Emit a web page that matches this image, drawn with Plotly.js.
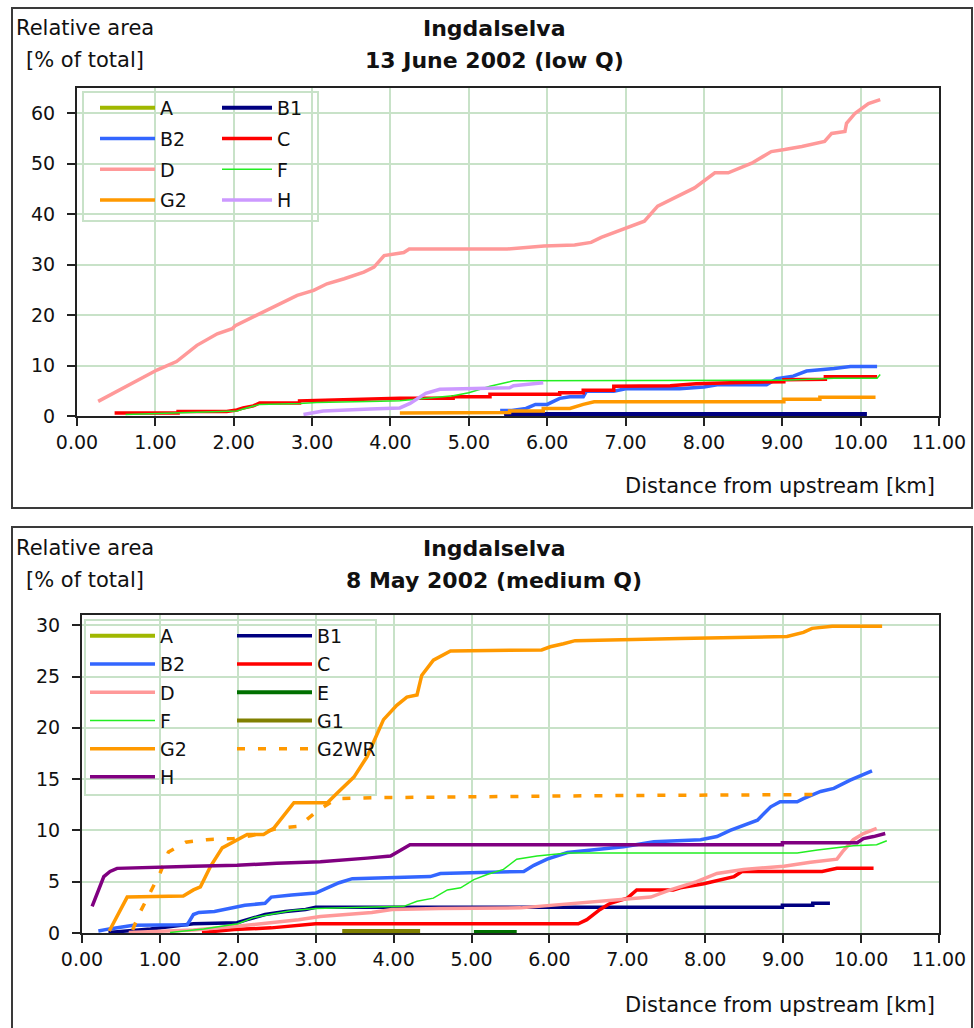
<!DOCTYPE html>
<html>
<head>
<meta charset="utf-8">
<script src="https://cdn.plot.ly/plotly-3.0.1.min.js"></script>
<style>
html,body{margin:0;padding:0;background:#fff;}
.box{position:absolute;left:11px;width:958px;border:2px solid #3a3a3a;background:#fff;}
#b1{top:7px;height:498px;}
#b2{top:526px;height:500px;}
</style>
</head>
<body>
<div class="box" id="b1"><div id="p1"></div></div>
<div class="box" id="b2"><div id="p2"></div></div>
<script>
// ---------- Chart 1: 13 June 2002 (low Q) ----------
// Series A has no visible values in the chart (legend entry only)
const juneA_x = [null];
const juneA_y = [null];
const juneB1_x = [5.45, 5.52, 10.08];
const juneB1_y = [0.2, 0.4, 0.4];
const juneB2_x = [5.40, 5.55, 5.73, 5.85, 6.00, 6.16, 6.29, 6.46, 6.50, 6.85, 7.00, 7.69, 8.00, 8.17, 8.80, 8.93, 9.14, 9.31, 9.66, 9.87, 10.21];
const juneB2_y = [1.1, 1.1, 1.5, 2.3, 2.3, 3.5, 3.8, 3.8, 4.9, 4.9, 5.4, 5.4, 5.75, 6.2, 6.2, 7.4, 7.9, 8.9, 9.4, 9.8, 9.8];
const juneC_x = [0.48, 1.29, 1.29, 1.91, 2.04, 2.12, 2.25, 2.33, 2.84, 2.84, 3.40, 3.74, 4.00, 4.12, 4.80, 4.80, 5.27, 5.27, 6.16, 6.16, 6.46, 6.46, 6.85, 6.85, 7.57, 7.90, 8.34, 9.02, 9.02, 9.55, 9.55, 10.21];
const juneC_y = [0.6, 0.6, 0.9, 0.9, 1.2, 1.6, 2.0, 2.6, 2.6, 3.0, 3.2, 3.3, 3.3, 3.5, 3.5, 3.8, 3.8, 4.3, 4.3, 4.6, 4.6, 5.1, 5.1, 5.9, 6.0, 6.4, 6.6, 6.8, 7.2, 7.3, 7.8, 7.8];
const juneD_x = [0.27, 1.02, 1.27, 1.53, 1.79, 1.98, 2.02, 2.25, 2.55, 2.81, 3.02, 3.19, 3.41, 3.66, 3.79, 3.92, 4.17, 4.24, 5.49, 5.96, 6.35, 6.56, 6.69, 7.03, 7.24, 7.41, 7.63, 7.88, 8.14, 8.31, 8.61, 8.86, 9.03, 9.25, 9.54, 9.63, 9.80, 9.82, 9.93, 10.10, 10.25];
const juneD_y = [2.9, 9.1, 10.8, 14.0, 16.3, 17.3, 17.9, 19.6, 21.9, 23.9, 24.9, 26.2, 27.2, 28.5, 29.5, 31.8, 32.4, 33.1, 33.1, 33.7, 33.9, 34.4, 35.4, 37.3, 38.6, 41.6, 43.2, 45.2, 48.2, 48.2, 50.1, 52.4, 52.8, 53.4, 54.4, 56.0, 56.4, 58.0, 60.0, 61.9, 62.7];
const juneF_x = [0.62, 1.29, 1.52, 1.91, 2.04, 2.12, 2.33, 2.84, 3.06, 3.87, 4.12, 4.46, 4.80, 5.00, 5.27, 5.52, 5.57, 9.02, 9.48, 9.66, 10.21, 10.25];
const juneF_y = [0.3, 0.6, 0.8, 0.9, 1.0, 1.4, 2.3, 2.5, 2.7, 2.9, 3.0, 3.5, 4.0, 4.6, 5.9, 6.8, 7.0, 7.1, 7.4, 7.5, 7.5, 8.2];
const juneG2_x = [4.12, 5.52, 5.52, 5.95, 5.95, 6.29, 6.46, 6.60, 9.02, 9.02, 9.48, 9.48, 10.19];
const juneG2_y = [0.6, 0.7, 1.0, 1.0, 1.5, 1.5, 2.3, 2.8, 2.8, 3.3, 3.3, 3.7, 3.7];
const juneH_x = [2.89, 3.14, 3.74, 4.12, 4.25, 4.45, 4.63, 5.27, 5.52, 5.57, 5.95];
const juneH_y = [0.3, 1.0, 1.4, 1.6, 2.5, 4.5, 5.3, 5.4, 5.6, 6.0, 6.6];

// ---------- Chart 2: 8 May 2002 (medium Q) ----------
const mayA_x = [null];
const mayA_y = [null];
const mayB1_x = [0.34, 0.88, 1.43, 1.99, 2.12, 2.35, 2.61, 2.87, 3.00, 4.60, 5.78, 8.99, 8.99, 9.38, 9.38, 9.60];
const mayB1_y = [0.05, 0.4, 0.9, 1.0, 1.3, 1.8, 2.1, 2.3, 2.5, 2.5, 2.5, 2.5, 2.7, 2.7, 2.9, 2.9];
const mayB2_x = [0.21, 0.35, 0.66, 1.35, 1.43, 1.50, 1.70, 1.90, 2.09, 2.35, 2.43, 2.69, 3.00, 3.12, 3.30, 3.47, 3.98, 4.47, 4.60, 5.67, 5.80, 5.97, 6.23, 6.61, 6.95, 7.34, 7.94, 8.15, 8.32, 8.67, 8.84, 8.96, 9.18, 9.26, 9.48, 9.65, 9.86, 10.14];
const mayB2_y = [0.2, 0.4, 0.75, 0.8, 1.8, 2.0, 2.1, 2.4, 2.7, 2.9, 3.5, 3.7, 3.9, 4.3, 4.9, 5.3, 5.4, 5.5, 5.8, 6.0, 6.6, 7.2, 7.85, 8.1, 8.4, 8.9, 9.1, 9.4, 10.0, 11.0, 12.3, 12.8, 12.8, 13.1, 13.8, 14.1, 14.9, 15.8];
const mayC_x = [1.54, 1.95, 2.43, 3.00, 6.37, 6.48, 6.65, 6.78, 7.00, 7.12, 7.42, 7.59, 7.68, 7.98, 8.37, 8.47, 9.50, 9.69, 10.16];
const mayC_y = [0.05, 0.33, 0.5, 0.9, 0.9, 1.3, 2.3, 2.9, 3.4, 4.2, 4.2, 4.2, 4.4, 4.8, 5.5, 6.0, 6.0, 6.3, 6.3];
const mayD_x = [0.60, 1.43, 1.99, 2.43, 2.78, 3.06, 3.40, 3.72, 3.98, 4.58, 5.63, 6.31, 6.74, 7.30, 7.55, 7.89, 8.15, 8.49, 9.01, 9.35, 9.69, 9.76, 9.90, 10.03, 10.20];
const mayD_y = [0.05, 0.3, 0.65, 1.0, 1.3, 1.6, 1.8, 2.0, 2.3, 2.4, 2.45, 2.9, 3.2, 3.5, 4.2, 5.0, 5.8, 6.2, 6.5, 6.9, 7.2, 7.9, 9.1, 9.7, 10.2];
const mayE_x = [5.03, 5.58];
const mayE_y = [0.1, 0.1];
const mayF_x = [1.13, 1.56, 2.00, 2.20, 2.48, 2.70, 3.00, 3.70, 4.13, 4.30, 4.51, 4.69, 4.86, 5.03, 5.20, 5.41, 5.58, 5.84, 6.23, 9.18, 9.44, 9.90, 10.20, 10.33];
const mayF_y = [0.05, 0.4, 0.9, 1.5, 1.9, 2.2, 2.4, 2.5, 2.6, 3.1, 3.4, 4.2, 4.4, 5.2, 5.7, 6.2, 7.2, 7.5, 7.8, 7.8, 8.1, 8.5, 8.6, 9.0];
const mayG1_x = [3.34, 4.34];
const mayG1_y = [0.2, 0.2];
const mayG2_x = [0.35, 0.58, 1.30, 1.43, 1.52, 1.65, 1.80, 1.99, 2.12, 2.33, 2.46, 2.72, 3.15, 3.27, 3.49, 3.66, 3.87, 4.04, 4.17, 4.30, 4.36, 4.51, 4.73, 5.90, 6.01, 6.18, 6.33, 7.68, 9.05, 9.26, 9.37, 9.63, 10.27];
const mayG2_y = [0.2, 3.5, 3.6, 4.2, 4.5, 6.5, 8.3, 9.1, 9.6, 9.6, 10.2, 12.7, 12.7, 13.6, 15.2, 17.2, 20.8, 22.2, 23.0, 23.2, 25.1, 26.6, 27.5, 27.6, 27.9, 28.2, 28.5, 28.7, 28.9, 29.3, 29.7, 29.9, 29.9];
const mayG2WR_x = [0.65, 0.73, 1.00, 1.11, 1.33, 1.60, 1.94, 2.18, 2.51, 2.78, 3.02, 3.27, 3.87, 5.63, 6.90, 9.54];
const mayG2WR_y = [0.3, 1.8, 5.8, 7.9, 8.85, 9.1, 9.2, 9.5, 10.2, 10.4, 11.9, 13.1, 13.2, 13.35, 13.4, 13.5];
const mayH_x = [0.13, 0.19, 0.28, 0.36, 0.45, 1.43, 1.99, 2.50, 3.06, 3.66, 3.96, 4.05, 4.21, 8.99, 8.99, 9.95, 10.03, 10.16, 10.31];
const mayH_y = [2.6, 3.7, 5.5, 6.0, 6.3, 6.5, 6.6, 6.8, 6.95, 7.3, 7.5, 7.9, 8.6, 8.6, 8.8, 8.8, 9.2, 9.4, 9.7];

const xTickVals = [0,1,2,3,4,5,6,7,8,9,10,11];
const xTickText = ["0.00","1.00","2.00","3.00","4.00","5.00","6.00","7.00","8.00","9.00","10.00","11.00"];

const FONT = "'DejaVu Sans', Verdana, sans-serif";
const FS = 19;

function tr(name, x, y, color, width, legend, dash) {
  return {
    type: 'scatter', mode: 'lines', name: name, x: x, y: y,
    line: {color: color, width: width, dash: dash || 'solid'},
    legend: legend, legendgroup: name, hoverinfo: 'skip'
  };
}

function axisX() {
  return {
    range: [0, 11], tickmode: 'array', tickvals: xTickVals, ticktext: xTickText,
    showline: true, linecolor: '#222', linewidth: 2, mirror: true,
    ticks: 'outside', ticklen: 8, tickwidth: 2, tickcolor: '#222',
    showgrid: true, gridcolor: '#c8e2c8', gridwidth: 2, zeroline: false,
    tickfont: {family: FONT, size: FS, color: '#111'}, fixedrange: true
  };
}
function axisY(maxv, dt) {
  return {
    range: [0, maxv], dtick: dt, tick0: 0,
    showline: true, linecolor: '#222', linewidth: 2, mirror: true,
    ticks: 'outside', ticklen: 8, tickwidth: 2, tickcolor: '#222',
    showgrid: true, gridcolor: '#c8e2c8', gridwidth: 2, zeroline: false,
    tickfont: {family: FONT, size: FS, color: '#111'}, ticklabelstandoff: 8, fixedrange: true
  };
}
function ann(text, x, xanchor, xshift, y, yshift, bold, size) {
  return {
    xref: 'paper', yref: 'paper', x: x, y: y, xanchor: xanchor, yanchor: 'middle',
    xshift: xshift, yshift: yshift, showarrow: false,
    text: bold ? '<b>' + text + '</b>' : text,
    font: {family: FONT, size: size, color: '#111'}
  };
}
function legendCfg(x, y, iw, gap) {
  return {
    x: x, y: y, xanchor: 'left', yanchor: 'top', bgcolor: 'rgba(0,0,0,0)', borderwidth: 0,
    font: {family: FONT, size: FS, color: '#111'}, itemwidth: iw, tracegroupgap: gap,
    traceorder: 'grouped'
  };
}

// ----- chart 1 -----
const data1 = [
  tr('A', juneA_x, juneA_y, '#a0b800', 4, 'legend'),
  tr('B1', juneB1_x, juneB1_y, '#000080', 4, 'legend2'),
  tr('B2', juneB2_x, juneB2_y, '#3366ff', 3.5, 'legend'),
  tr('C', juneC_x, juneC_y, '#ff0000', 3.5, 'legend2'),
  tr('D', juneD_x, juneD_y, '#ff9999', 3.5, 'legend'),
  tr('F', juneF_x, juneF_y, '#22ee22', 1.5, 'legend2'),
  tr('G2', juneG2_x, juneG2_y, '#ff9900', 3.5, 'legend'),
  tr('H', juneH_x, juneH_y, '#cc99ff', 3.5, 'legend2')
];
const L1 = {l: 64, r: 32, t: 79, b: 91};
const W1 = 958, H1 = 498;
const pw1 = W1 - L1.l - L1.r, ph1 = H1 - L1.t - L1.b;
const layout1 = {
  width: W1, height: H1, margin: L1, paper_bgcolor: '#fff', plot_bgcolor: '#fff',
  showlegend: true,
  xaxis: axisX(), yaxis: axisY(65, 10),
  legend: legendCfg((95 - 77) / pw1, 1 - (89 - 88) / ph1, 55, 3),
  legend2: legendCfg((217 - 77) / pw1, 1 - (89 - 88) / ph1, 50, 3),
  shapes: [{type: 'rect', xref: 'paper', yref: 'paper', layer: 'between',
    x0: (83 - 77) / pw1, x1: (318 - 77) / pw1, y0: 1 - (221 - 88) / ph1, y1: 1 - (92 - 88) / ph1,
    fillcolor: '#fff', line: {color: '#c8e2c8', width: 2}}],
  annotations: [
    ann('Relative area', 0, 'left', -63, 1, 60, false, 21),
    ann('[% of total]', 0, 'left', -53, 1, 28, false, 21),
    ann('Ingdalselva', (494 - 77) / pw1, 'center', 0, 1, 60, true, 22),
    ann('13 June 2002 (low Q)', (494 - 77) / pw1, 'center', 0, 1, 28, true, 22),
    ann('Distance from upstream [km]', 1, 'right', -2, 0, -70, false, 21)
  ]
};

// ----- chart 2 -----
const data2 = [
  tr('A', mayA_x, mayA_y, '#a0b800', 4, 'legend'),
  tr('B1', mayB1_x, mayB1_y, '#000080', 3.5, 'legend2'),
  tr('B2', mayB2_x, mayB2_y, '#3366ff', 3.5, 'legend'),
  tr('C', mayC_x, mayC_y, '#ff0000', 3.5, 'legend2'),
  tr('D', mayD_x, mayD_y, '#ff9999', 3.5, 'legend'),
  tr('E', mayE_x, mayE_y, '#007000', 4, 'legend2'),
  tr('F', mayF_x, mayF_y, '#22ee22', 1.5, 'legend'),
  tr('G1', mayG1_x, mayG1_y, '#808000', 4, 'legend2'),
  tr('G2', mayG2_x, mayG2_y, '#ff9900', 3.5, 'legend'),
  tr('G2WR', mayG2WR_x, mayG2WR_y, '#ff9900', 3.5, 'legend2', '8px,13px'),
  tr('H', mayH_x, mayH_y, '#800080', 3.5, 'legend')
];
const L2 = {l: 69, r: 32, t: 87, b: 95};
const W2 = 958, H2 = 500;
const pw2 = W2 - L2.l - L2.r, ph2 = H2 - L2.t - L2.b;
const layout2 = {
  width: W2, height: H2, margin: L2, paper_bgcolor: '#fff', plot_bgcolor: '#fff',
  showlegend: true,
  xaxis: axisX(), yaxis: axisY(31, 5),
  legend: legendCfg((85 - 82) / pw2, 1 - (617 - 615) / ph2, 65, 0.5),
  legend2: legendCfg((232 - 82) / pw2, 1 - (617 - 615) / ph2, 75, 0.5),
  shapes: [{type: 'rect', xref: 'paper', yref: 'paper', layer: 'between',
    x0: (85 - 82) / pw2, x1: (376 - 82) / pw2, y0: 1 - (795 - 615) / ph2, y1: 1 - (620 - 615) / ph2,
    fillcolor: '#fff', line: {color: '#c8e2c8', width: 2}}],
  annotations: [
    ann('Relative area', 0, 'left', -68, 1, 67, false, 21),
    ann('[% of total]', 0, 'left', -58, 1, 35, false, 21),
    ann('Ingdalselva', (494 - 82) / pw2, 'center', 0, 1, 67, true, 22),
    ann('8 May 2002 (medium Q)', (494 - 82) / pw2, 'center', 0, 1, 35, true, 22),
    ann('Distance from upstream [km]', 1, 'right', -2, 0, -72, false, 21)
  ]
};

const cfg = {staticPlot: true, displayModeBar: false};
Plotly.newPlot('p1', data1, layout1, cfg);
Plotly.newPlot('p2', data2, layout2, cfg);
</script>
</body>
</html>
